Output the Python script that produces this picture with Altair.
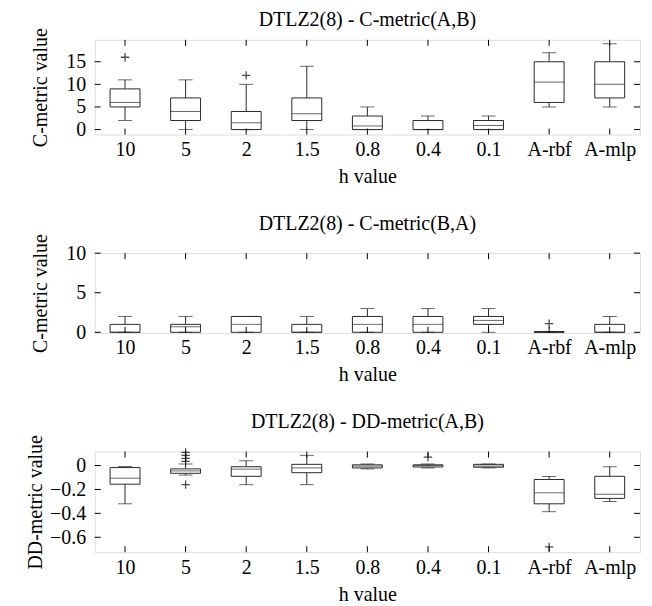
import altair as alt
import pandas as pd

FONT = "Liberation Serif, Times New Roman, DejaVu Serif, serif"
cats = ["10", "5", "2", "1.5", "0.8", "0.4", "0.1", "A-rbf", "A-mlp"]

# Panel 1: C-metric(A,B)
p1_low = [2, 0, 0, 0, 0, 0, 0, 5, 5]
p1_q1 = [5, 2, 0, 2, 0, 0, 0, 6, 7]
p1_med = [6, 4, 1.5, 3.5, 0.8, 0, 0.9, 10.5, 10]
p1_q3 = [9, 7, 4, 7, 3, 2, 2, 15, 15]
p1_high = [11, 11, 10, 14, 5, 3, 3, 17, 19]
p1_out_cat = ["10", "2"]
p1_out_val = [16, 12]
p1_ticks = [0, 5, 10, 15]

# Panel 2: C-metric(B,A)
p2_low = [0, 0, 0, 0, 0, 0, 0, 0, 0]
p2_q1 = [0, 0, 0, 0, 0, 0, 1, 0, 0]
p2_med = [0, 0.7, 1, 0, 1, 1, 1.5, 0, 0]
p2_q3 = [1, 1, 2, 1, 2, 2, 2, 0.1, 1]
p2_high = [2, 2, 2, 2, 3, 3, 3, 0.1, 2]
p2_out_cat = ["A-rbf"]
p2_out_val = [1.1]
p2_ticks = [0, 5, 10]

# Panel 3: DD-metric(A,B)
p3_low = [-0.32, -0.08, -0.16, -0.16, -0.028, -0.02, -0.02, -0.386, -0.30]
p3_q1 = [-0.156, -0.065, -0.09, -0.06, -0.02, -0.012, -0.014, -0.32, -0.275]
p3_med = [-0.106, -0.045, -0.03, -0.02, -0.005, 0.0, -0.004, -0.228, -0.24]
p3_q3 = [-0.017, -0.028, -0.01, 0.01, 0.006, 0.006, 0.01, -0.117, -0.09]
p3_high = [-0.008, 0.013, 0.04, 0.085, 0.013, 0.013, 0.013, -0.092, -0.01]
p3_out_cat = ["5", "5", "5", "5", "5", "0.4", "A-rbf"]
p3_out_val = [0.035, 0.06, 0.085, 0.11, -0.16, 0.07, -0.68]
p3_ticks = [0, -0.2, -0.4, -0.6]

W = 547
FS = 20
STROKE = "#2a2a2a"
PLUS = "M-1,0H1M0,-1V1"


def panel(title, ytitle, low, q1, med, q3, high, out_cat, out_val, yticks,
          domain, H, toff, fmt, tx):
    df = pd.DataFrame({"cat": cats, "low": low, "q1": q1, "med": med,
                       "q3": q3, "high": high})
    odf = pd.DataFrame({"cat": out_cat, "v": out_val})
    tdf = pd.DataFrame({"cat": cats})
    ydf = pd.DataFrame({"v": yticks})

    xscale = alt.Scale(type="point", domain=cats, padding=0.5)
    xaxis = alt.Axis(title="h value", ticks=False, domain=False, grid=False,
                     labelAngle=0, labelPadding=5, labelFont=FONT,
                     labelFontSize=FS, labelColor="black", titleFont=FONT,
                     titleFontSize=FS, titleFontWeight="normal",
                     titleColor="black", titlePadding=7)
    yscale = alt.Scale(domain=domain, nice=False, zero=False)
    yaxis = alt.Axis(title=ytitle, values=yticks, ticks=False, domain=False,
                     grid=False, labelPadding=9, labelFont=FONT,
                     labelFontSize=FS, labelColor="black", titleFont=FONT,
                     titleFontSize=FS, titleFontWeight="normal",
                     titleColor="black", titleAngle=270,
                     titleBaseline="bottom", titleX=tx, titleY=H / 2,
                     format=fmt)

    def X():
        return alt.X("cat:N", scale=xscale, axis=xaxis)

    def Y(f):
        return alt.Y(f"{f}:Q", scale=yscale, axis=yaxis)

    base = alt.Chart(df)
    wl = base.mark_rule(color=STROKE, strokeWidth=1).encode(
        x=X(), y=Y("low"), y2="q1")
    wh = base.mark_rule(color=STROKE, strokeWidth=1).encode(
        x=X(), y=Y("q3"), y2="high")
    box = base.mark_bar(size=30, fill="white", stroke=STROKE,
                        strokeWidth=1).encode(x=X(), y=Y("q1"), y2="q3")
    medm = base.mark_tick(size=30, thickness=1, color=STROKE).encode(
        x=X(), y=Y("med"))
    capl = base.mark_tick(size=14, thickness=1, color=STROKE).encode(
        x=X(), y=Y("low"))
    caph = base.mark_tick(size=14, thickness=1, color=STROKE).encode(
        x=X(), y=Y("high"))
    outl = alt.Chart(odf).mark_point(shape=PLUS, size=70, filled=False,
                                     stroke="black", strokeWidth=1.3).encode(
        x=X(), y=Y("v"))
    xt_b = alt.Chart(tdf).mark_rule(color="black").encode(
        x=X(), y=alt.value(H), y2=alt.value(H - 6))
    xt_t = alt.Chart(tdf).mark_rule(color="black").encode(
        x=X(), y=alt.value(0), y2=alt.value(6))
    yt_l = alt.Chart(ydf).mark_rule(color="black").encode(
        y=Y("v"), x=alt.value(0), x2=alt.value(6))
    yt_r = alt.Chart(ydf).mark_rule(color="black").encode(
        y=Y("v"), x=alt.value(W), x2=alt.value(W - 6))

    return alt.layer(wl, wh, box, medm, capl, caph, outl, xt_b, xt_t, yt_l,
                     yt_r).properties(
        width=W, height=H,
        title=alt.TitleParams(title, font=FONT, fontSize=FS,
                              fontWeight="normal", color="black",
                              anchor="middle", offset=toff, frame="group"))


c1 = panel("DTLZ2(8) - C-metric(A,B)", "C-metric value", p1_low, p1_q1,
           p1_med, p1_q3, p1_high, p1_out_cat, p1_out_val, p1_ticks,
           [-1.1, 19.85], 95, -2, "d", -44)
c2 = panel("DTLZ2(8) - C-metric(B,A)", "C-metric value", p2_low, p2_q1,
           p2_med, p2_q3, p2_high, p2_out_cat, p2_out_val, p2_ticks,
           [-0.08, 10], 80, 0, "d", -44)
c3 = panel("DTLZ2(8) - DD-metric(A,B)", "DD-metric value", p3_low, p3_q1,
           p3_med, p3_q3, p3_high, p3_out_cat, p3_out_val, p3_ticks,
           [-0.725, 0.117], 101, 3, "", -49)

chart = alt.vconcat(c1, c2, c3, spacing=25).properties(
    padding={"left": 17, "top": 0, "right": 3, "bottom": 0}
).configure_view(stroke="black", strokeWidth=1).configure(
    background="white")

chart.save("out.html", embed_options={"renderer": "svg", "actions": False})
